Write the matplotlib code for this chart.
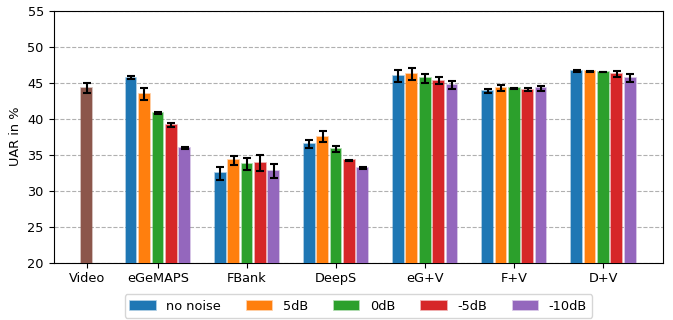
import matplotlib
matplotlib.use("Agg")
import matplotlib.pyplot as plt
from matplotlib.colors import to_rgba
import numpy as np

plt.rcParams["font.size"] = 9.3

groups = ["eGeMAPS", "FBank", "DeepS", "eG+V", "F+V", "D+V"]
series = ["no noise", "5dB", "0dB", "-5dB", "-10dB"]
colors = ["#1f77b4", "#ff7f0e", "#2ca02c", "#d62728", "#9467bd"]

values = {
    "no noise": [45.7, 32.4, 36.5, 45.9, 43.8, 46.6],
    "5dB":      [43.4, 34.2, 37.5, 46.2, 44.3, 46.6],
    "0dB":      [40.8, 33.7, 35.8, 45.6, 44.2, 46.5],
    "-5dB":     [39.1, 33.8, 34.2, 45.3, 44.05, 46.2],
    "-10dB":    [35.9, 32.7, 33.1, 44.7, 44.2, 45.6],
}
errors = {
    "no noise": [0.25, 0.95, 0.55, 0.83, 0.3, 0.15],
    "5dB":      [0.8, 0.6, 0.8, 0.83, 0.4, 0.05],
    "0dB":      [0.08, 0.8, 0.4, 0.6, 0.05, 0.05],
    "-5dB":     [0.28, 1.1, 0.05, 0.55, 0.2, 0.45],
    "-10dB":    [0.15, 0.97, 0.15, 0.58, 0.3, 0.55],
}
video_value = 44.25
video_error = 0.65

fig = plt.figure(figsize=(6.73, 3.2), dpi=100)
ax = fig.add_axes([0.0795, 0.179, 0.906, 0.7876])

width = 0.12
step = 0.15
ekw = dict(elinewidth=1.5, capthick=1.5, ecolor="black")
x = np.arange(1, len(groups) + 1)
ax.bar([0.2], [video_value], width, yerr=[video_error], color="#8c564b",
       edgecolor=to_rgba("#8c564b", 0.45), linewidth=1.2,
       capsize=3, error_kw=ekw, zorder=3)
for i, s in enumerate(series):
    ax.bar(x + (i - 2) * step, values[s], width, yerr=errors[s], color=colors[i],
           edgecolor=to_rgba(colors[i], 0.45), linewidth=1.2,
           label=s, capsize=3, error_kw=ekw, zorder=3)

ax.set_ylim(20, 55)
ax.set_yticks(np.arange(20, 56, 5))
ax.set_xticks([0.2] + list(x))
ax.set_xticklabels(["Video"] + groups)
ax.set_ylabel("UAR in %")
ax.yaxis.grid(True, linestyle="--", color="#b0b0b0", zorder=0)
ax.set_axisbelow(True)
ax.legend(loc="upper center", bbox_to_anchor=(0.5, -0.1), ncol=5)
fig.savefig("out.png", dpi=100)
